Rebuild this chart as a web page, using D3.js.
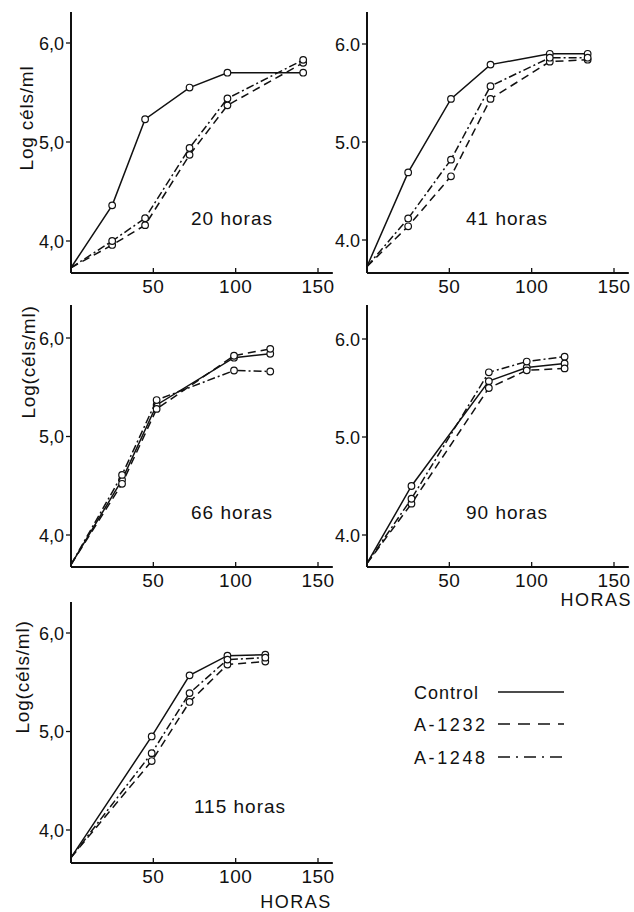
<!DOCTYPE html>
<html>
<head lang="es">
    <meta charset="UTF-8">
    <title>Curvas de crecimiento</title>
    <script src="https://cdnjs.cloudflare.com/ajax/libs/d3/7.8.5/d3.min.js"></script>
    <style>
        body { margin: 0; background: white; }
        text { font-family: "Liberation Sans", Arial, sans-serif; fill: #111; }
    </style>
</head>
<body>
<div id="chart"></div>
<script>

// data (hours vs log cells/ml)
var series = ['Control', 'A-1232', 'A-1248'];
var panelNames = ['20 horas', '41 horas', '66 horas', '90 horas', '115 horas'];

var hours20 = [0, 25, 45, 72, 95, 141];
var control20 = [3.73, 4.36, 5.23, 5.55, 5.70, 5.70];
var a1232_20 = [3.73, 3.96, 4.16, 4.87, 5.37, 5.80];
var a1248_20 = [3.73, 4.00, 4.23, 4.94, 5.44, 5.83];

var hours41 = [0, 25, 51, 75, 111, 134];
var control41 = [3.73, 4.69, 5.44, 5.79, 5.90, 5.90];
var a1232_41 = [3.73, 4.14, 4.65, 5.44, 5.82, 5.84];
var a1248_41 = [3.73, 4.22, 4.82, 5.57, 5.86, 5.86];

var hours66 = [0, 31, 52, 99, 121];
var control66 = [3.70, 4.56, 5.32, 5.80, 5.84];
var a1232_66 = [3.70, 4.52, 5.28, 5.82, 5.89];
var a1248_66 = [3.70, 4.61, 5.37, 5.67, 5.66];

var hours90 = [0, 27, 74, 97, 120];
var control90 = [3.71, 4.50, 5.57, 5.71, 5.75];
var a1232_90 = [3.71, 4.32, 5.50, 5.68, 5.70];
var a1248_90 = [3.71, 4.37, 5.66, 5.77, 5.82];

var hours115 = [0, 49, 72, 95, 118];
var control115 = [3.72, 4.95, 5.57, 5.77, 5.78];
var a1232_115 = [3.72, 4.70, 5.30, 5.68, 5.71];
var a1248_115 = [3.72, 4.78, 5.39, 5.73, 5.75];

var xTicks = [50, 100, 150];
var yTicks = [4, 5, 6];

var dashes = {'Control': null, 'A-1232': '8,5', 'A-1248': '8,3,2,3'};

var svgWidth = 634, svgHeight = 912;
var svg = d3.select('#chart').append('svg')
    .attr('width', svgWidth)
    .attr('height', svgHeight);

// panel frames: x0 = y axis, top/bottom of axis, y4/y6 = pixel rows of 4,0 and 6,0
var panels = [
    {name: panelNames[0], hours: hours20, vals: [control20, a1232_20, a1248_20],
        x0: 71, top: 12, bottom: 273, y4: 241, y6: 43, sep: ',', ylabel: 'Log céls/ml', lx: 26, ly: 118,
        nx: 232, ny: 225},
    {name: panelNames[1], hours: hours41, vals: [control41, a1232_41, a1248_41],
        x0: 367, top: 12, bottom: 273, y4: 240, y6: 44, sep: '.', nx: 507, ny: 225},
    {name: panelNames[2], hours: hours66, vals: [control66, a1232_66, a1248_66],
        x0: 71, top: 305, bottom: 567, y4: 535, y6: 338, sep: ',', ylabel: 'Log(céls/ml)', lx: 28, ly: 362,
        nx: 232, ny: 519},
    {name: panelNames[3], hours: hours90, vals: [control90, a1232_90, a1248_90],
        x0: 367, top: 305, bottom: 567, y4: 535, y6: 339, sep: '.', nx: 507, ny: 519, horas: [632, 606, 'end']},
    {name: panelNames[4], hours: hours115, vals: [control115, a1232_115, a1248_115],
        x0: 71, top: 602, bottom: 863, y4: 830, y6: 633, sep: ',', ylabel: 'Log(céls/ml)', lx: 22, ly: 677,
        nx: 240, ny: 813, horas: [296, 908, 'middle']}
];

panels.forEach(function(p) {
    var g = svg.append('g');
    var x = d3.scaleLinear().domain([0, 150]).range([p.x0, p.x0 + 247]);
    var y = d3.scaleLinear().domain([4, 6]).range([p.y4, p.y6]);

    // axes
    g.append('line').attr('x1', p.x0).attr('x2', p.x0).attr('y1', p.top).attr('y2', p.bottom)
        .attr('stroke', '#111').attr('stroke-width', 2);
    g.append('line').attr('x1', p.x0).attr('x2', x(159)).attr('y1', p.bottom).attr('y2', p.bottom)
        .attr('stroke', '#111').attr('stroke-width', 2);

    yTicks.forEach(function(v) {
        g.append('line').attr('x1', p.x0 - 5).attr('x2', p.x0).attr('y1', y(v)).attr('y2', y(v))
            .attr('stroke', '#111').attr('stroke-width', 1.3);
        g.append('text').attr('x', p.x0 - 7).attr('y', y(v) + 6.5)
            .attr('text-anchor', 'end').attr('font-size', 18)
            .text(d3.format('.1f')(v).replace('.', p.sep));
    });
    xTicks.forEach(function(t) {
        g.append('line').attr('x1', x(t)).attr('x2', x(t)).attr('y1', p.bottom - 5).attr('y2', p.bottom)
            .attr('stroke', '#111').attr('stroke-width', 1.3);
        g.append('text').attr('x', x(t)).attr('y', p.bottom + 20)
            .attr('text-anchor', 'middle').attr('font-size', 19).attr('letter-spacing', 0.5)
            .text(t);
    });

    if (p.ylabel) {
        g.append('text').attr('transform', 'translate(' + (p.lx + 7) + ',' + p.ly + ') rotate(-90)')
            .attr('text-anchor', 'middle').attr('font-size', 19).attr('letter-spacing', 0.8)
            .text(p.ylabel);
    }
    if (p.horas) {
        g.append('text').attr('x', p.horas[0]).attr('y', p.horas[1])
            .attr('text-anchor', p.horas[2]).attr('font-size', 18).attr('letter-spacing', 1.5)
            .text('HORAS');
    }
    g.append('text').attr('x', p.nx).attr('y', p.ny)
        .attr('text-anchor', 'middle').attr('font-size', 19).attr('letter-spacing', 1)
        .text(p.name);

    var line = d3.line()
        .x(function(d) { return x(d[0]); })
        .y(function(d) { return y(d[1]); });

    series.forEach(function(s, i) {
        var pts = p.hours.map(function(h, j) { return [h, p.vals[i][j]]; });
        g.append('path').datum(pts)
            .attr('d', line)
            .attr('fill', 'none')
            .attr('stroke', '#111')
            .attr('stroke-width', 1.5)
            .attr('stroke-dasharray', dashes[s]);
        g.selectAll('circle.s' + i).data(pts.slice(1)).enter().append('circle')
            .attr('class', 's' + i)
            .attr('cx', function(d) { return x(d[0]); })
            .attr('cy', function(d) { return y(d[1]); })
            .attr('r', 3.3)
            .attr('fill', 'white')
            .attr('stroke', '#111')
            .attr('stroke-width', 1.2);
    });
});

// legend
var legendY = [692, 724, 757];
var legendSpacing = [1, 2.6, 2.6];
var legend = svg.append('g');
series.forEach(function(s, i) {
    legend.append('text').attr('x', 414).attr('y', legendY[i] + 6.5)
        .attr('font-size', 18).attr('letter-spacing', legendSpacing[i])
        .text(s);
    legend.append('line').attr('x1', 498).attr('x2', 564)
        .attr('y1', legendY[i]).attr('y2', legendY[i])
        .attr('stroke', '#111').attr('stroke-width', 1.5)
        .attr('stroke-dasharray', s === 'Control' ? null : (s === 'A-1232' ? '12,8' : '12,6,2,6'));
});

</script>
</body>
</html>
